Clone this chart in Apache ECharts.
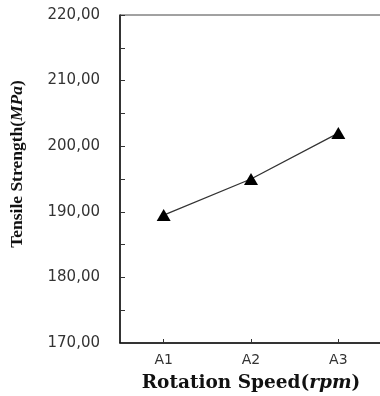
<!DOCTYPE html>
<html><head><meta charset="utf-8">
<script src="https://cdn.jsdelivr.net/npm/echarts@6/dist/echarts.min.js"></script>
<style>html,body{margin:0;padding:0;background:#fff}#c{width:380px;height:396px}</style>
</head><body><div id="c"></div>
<script>
var categories = ['A1', 'A2', 'A3'];
var tensileStrength = [189.5, 195.0, 202.0];
var yMin = 170, yMax = 220, yStep = 5;

var chart = echarts.init(document.getElementById('c'), null, {renderer: 'canvas'});
chart.setOption({
  animation: false,
  grid: {left: 120, top: 15, width: 262, height: 328, outerBoundsMode: 'none', containLabel: false,
    show: true, borderColor: '#444', borderWidth: 1, backgroundColor: 'transparent'},
  xAxis: {
    type: 'category', data: categories, boundaryGap: true,
    axisLine: {lineStyle: {color: '#111', width: 1.5}},
    axisTick: {show: true, inside: true, length: 4, alignWithLabel: true, lineStyle: {color: '#333'}},
    axisLabel: {color: '#333', fontFamily: 'DejaVu Sans', fontSize: 14, margin: 10},
    name: '{b|Rotation Speed(}{i|rpm}{b|)}', nameLocation: 'middle', nameGap: 31,
    nameTextStyle: {rich: {
      b: {fontFamily: 'DejaVu Serif', fontWeight: 'bold', fontSize: 18.5, color: '#111'},
      i: {fontFamily: 'DejaVu Serif', fontWeight: 'bold', fontStyle: 'italic', fontSize: 18.5, color: '#111'}
    }}
  },
  yAxis: {
    type: 'value', min: yMin, max: yMax, interval: yStep,
    axisLine: {show: true, lineStyle: {color: '#111', width: 1.5}},
    axisTick: {show: true, inside: true, length: 5, lineStyle: {color: '#333'}},
    splitLine: {show: false},
    axisLabel: {color: '#333', fontFamily: 'DejaVu Sans', fontSize: 15, margin: 20,
      formatter: function (v) { return (v % 10 === 0) ? v.toFixed(2).replace('.', ',') : ''; }},
    name: '{b|Tensile Strength(}{i|MPa}{b|)}', nameLocation: 'middle', nameGap: 94, nameRotate: 90,
    nameTextStyle: {padding: [0, 0, 0, 30], rich: {
      b: {fontFamily: 'Liberation Serif', fontWeight: 'bold', fontSize: 17.5, color: '#111'},
      i: {fontFamily: 'Liberation Serif', fontWeight: 'bold', fontStyle: 'italic', fontSize: 17.5, color: '#111'}
    }}
  },
  series: [{
    type: 'line', data: tensileStrength,
    symbol: 'triangle', symbolSize: [14, 12],
    itemStyle: {color: '#000'},
    lineStyle: {color: '#333', width: 1.3}
  }]
});
</script></body></html>
